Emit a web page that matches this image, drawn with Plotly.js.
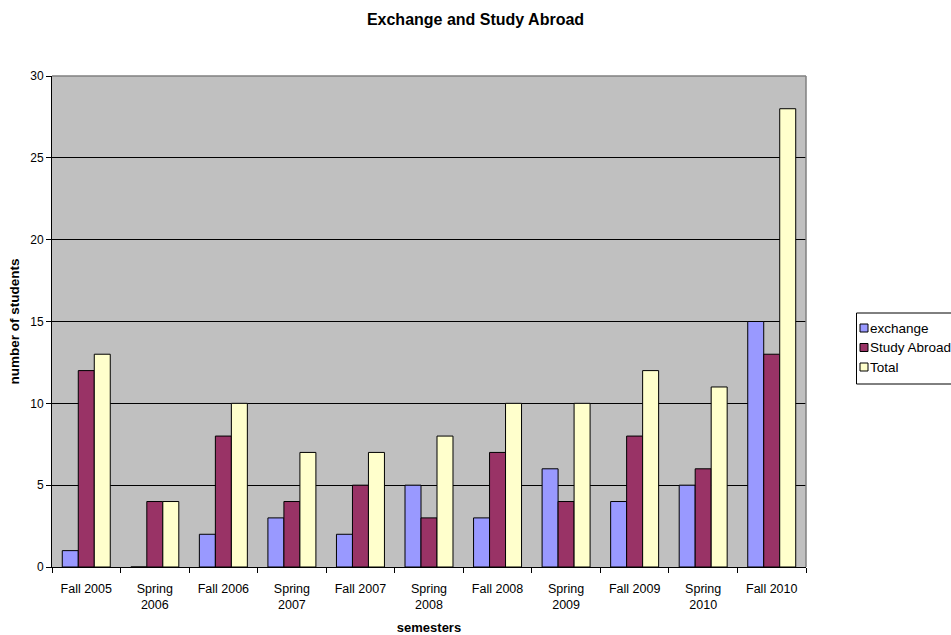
<!DOCTYPE html>
<html>
<head>
<meta charset="utf-8">
<script src="https://cdn.plot.ly/plotly-3.0.1.min.js"></script>
<style>html,body{margin:0;padding:0;background:#fff;}#chart{width:951px;height:635px;}</style>
</head>
<body>
<div id="chart"></div>
<script>
const semesters = ["Fall 2005","Spring<br>2006","Fall 2006","Spring<br>2007","Fall 2007","Spring<br>2008","Fall 2008","Spring<br>2009","Fall 2009","Spring<br>2010","Fall 2010"];
const exchange = [1,0,2,3,2,5,3,6,4,5,15];
const studyAbroad = [12,4,8,4,5,3,7,4,8,6,13];
const total = [13,4,10,7,7,8,10,10,12,11,28];
const seriesNames = ['exchange','Study Abroad','Total'];
const seriesColors = ['#9999FF','#993366','#FFFFCC'];
const seriesValues = [exchange, studyAbroad, total];

const L = 52, R = 806, T = 76, B = 567;
const px = x => (x - L) / (R - L);
const py = y => (B - y) / (B - T);

const line = {color:'#000000', width:1};
const traces = seriesNames.map((n,i) => ({type:'bar', name:n, x:semesters, y:seriesValues[i], marker:{color:seriesColors[i], line:line}}));
const fam = '"Liberation Sans", Arial, sans-serif';
const font = {family:fam, size:12, color:'#000'};

const shapes = [
  {type:'line', xref:'paper', yref:'paper', x0:0, x1:1, y0:1, y1:1, line:{color:'#808080', width:1.5}},
  {type:'line', xref:'paper', yref:'paper', x0:1, x1:1, y0:0, y1:1, line:{color:'#808080', width:1.5}},
  {type:'rect', xref:'paper', yref:'paper', x0:px(856.5), x1:px(960), y0:py(384), y1:py(313), line:{color:'#000', width:1}, fillcolor:'#fff'}
];
const annotations = [];
seriesNames.forEach((n,i) => {
  const cy = 328 + i*19.5;
  shapes.push({type:'rect', xref:'paper', yref:'paper', x0:px(860), x1:px(868), y0:py(cy+4), y1:py(cy-4), line:{color:'#000', width:1}, fillcolor:seriesColors[i]});
  annotations.push({xref:'paper', yref:'paper', x:px(868), y:py(cy), xanchor:'left', yanchor:'middle', text:n, showarrow:false, font:{family:fam, size:13.5, color:'#000'}});
});

const layout = {
  width:951, height:635,
  margin:{l:L, r:951-R, t:T, b:635-B, autoexpand:false},
  paper_bgcolor:'#ffffff', plot_bgcolor:'#C0C0C0',
  font:font,
  title:{text:'<b>Exchange and Study Abroad</b>', x:0.5, xanchor:'center', xref:'container', yref:'container', y:1-19/635, yanchor:'middle', font:{family:fam, size:16, color:'#000'}},
  barmode:'group', bargap:0.3, bargroupgap:0,
  showlegend:false,
  xaxis:{type:'category', tickson:'boundaries', ticks:'outside', ticklen:5, tickcolor:'#000', showline:true, linecolor:'#000', linewidth:1, showgrid:false,
    ticklabelstandoff:10,
    title:{text:'<b>semesters</b>', font:{family:fam, size:13, color:'#000'}, standoff:12}, tickfont:{size:12.5}},
  yaxis:{range:[0,30], dtick:5, ticks:'outside', ticklen:5, tickcolor:'#000', showline:true, linecolor:'#000', linewidth:1, showgrid:true, gridcolor:'#000', gridwidth:1, zeroline:false,
    title:{text:'<b>number of students</b>', font:{family:fam, size:13.5, color:'#000'}, standoff:7}, tickfont:{size:12}},
  shapes:shapes,
  annotations:annotations
};
Plotly.newPlot('chart', traces, layout, {staticPlot:true, displayModeBar:false});
</script>
</body>
</html>
